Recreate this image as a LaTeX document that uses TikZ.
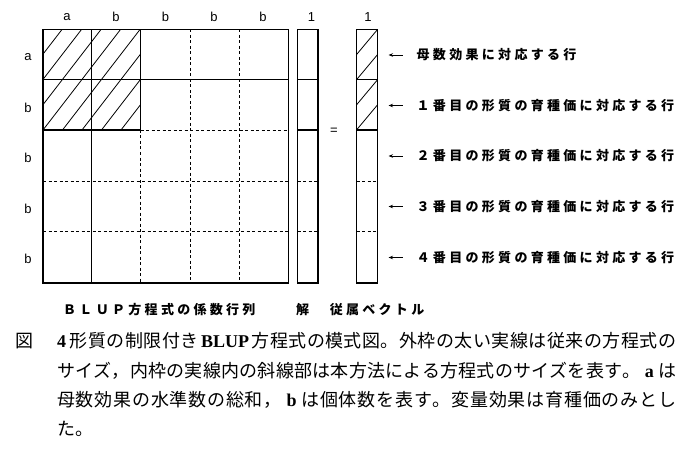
\documentclass[tikz,border=0pt]{standalone}
\usepackage{fontspec}
\setmainfont{Liberation Sans}
\newfontfamily\jpfont{Noto Sans CJK JP}
\newfontfamily\serifL{Liberation Serif}
\usetikzlibrary{arrows.meta}
\newcommand\spmark{SPMARK-UNIQUE-END}
\newdimen\lsdim \lsdim=3.3pt
\def\lsp#1{\ifx#1\spmark\unkern\else#1\kern\lsdim\expandafter\lsp\fi}
\def\hsp#1{\ifx#1\spmark\unskip\else#1\hfill\expandafter\hsp\fi}
\newcommand\LS[1]{\lsp#1\spmark}
\newcommand\SPREAD[2]{\hbox to #1{\hsp#2\spmark}}
\newcommand\BLUPw{{\kern2pt\serifL\bfseries BLUP\kern2pt}}
\newcommand\Lfour{{\serifL\bfseries 4\kern3pt}}
\newcommand\La{{\kern4pt\serifL\bfseries a\kern4pt}}
\newcommand\Lb{{\kern4pt\serifL\bfseries b\kern4pt}}
\tikzset{
  frame/.style={line width=1.8pt},
  thinln/.style={line width=0.8pt},
  dsh/.style={line width=0.9pt, dash pattern=on 3pt off 2.5pt},
  hatch/.style={line width=0.8pt},
  arr/.style={line width=0.8pt,-{Stealth[length=4.5pt,width=3.5pt]}},
  collbl/.style={font=\fontsize{13}{13}\selectfont, inner sep=0pt},
  jplbl/.style={font=\jpfont\bfseries\fontsize{13}{13}\selectfont, inner sep=0pt},
  captxt/.style={font=\jpfont\fontsize{18}{18}\selectfont, inner sep=0pt},
}
\begin{document}
\begin{tikzpicture}[x=1pt,y=-1pt]
\useasboundingbox (0,0) rectangle (700,449);
% hatching of the inner frame
\begin{scope}
  \clip (43,29.5) rectangle (140.5,130);
  \foreach \k in {-4,...,5}
    \draw[hatch] ({43+19.5*\k},130) -- ({43+19.5*\k+77.5},29.5);
\end{scope}
% big matrix inner lines
\draw[thinln] (91.5,29.5) -- (91.5,283);
\draw[thinln] (43,79) -- (288.5,79);
\draw[dsh] (140.5,130) -- (140.5,283);
\draw[dsh] (190,29.5) -- (190,283);
\draw[dsh] (239,29.5) -- (239,283);
\draw[dsh] (140.5,130) -- (288.5,130);
\draw[dsh] (43,181) -- (288.5,181);
\draw[dsh] (43,231.5) -- (288.5,231.5);
\draw[frame] (43,29.5) rectangle (140.5,130);
\draw[frame] (43,29.5) rectangle (288.5,283);
% solution vector
\draw[thinln] (297.5,79) -- (318,79);
\draw[frame] (297.5,130) -- (318,130);
\draw[dsh] (297.5,181) -- (318,181);
\draw[dsh] (297.5,231.5) -- (318,231.5);
\draw[frame] (297.5,29.5) rectangle (318,283);
% right-hand-side vector
\foreach \k in {0,...,3}
  \draw[hatch] (356.5,{29.5+25.125*(\k+1)}) -- (377.5,{29.5+25.125*\k});
\draw[thinln] (356.5,79) -- (377.5,79);
\draw[frame] (356.5,130) -- (377.5,130);
\draw[dsh] (356.5,181) -- (377.5,181);
\draw[dsh] (356.5,231.5) -- (377.5,231.5);
\draw[frame] (356.5,29.5) rectangle (377.5,283);
% equals sign
\node[collbl] (eq) at (334,131.5) {=};
% column labels
\node[collbl] (c1) at (67,17) {a};
\node[collbl] (c2) at (116,17) {b};
\node[collbl] (c3) at (165.5,17) {b};
\node[collbl] (c4) at (214,17) {b};
\node[collbl] (c5) at (263,17) {b};
\node[collbl] (c6) at (311.5,17) {1};
\node[collbl] (c7) at (368,17) {1};
% row labels
\node[collbl] (r1) at (28,57) {a};
\node[collbl] (r2) at (28,108) {b};
\node[collbl] (r3) at (28,158) {b};
\node[collbl] (r4) at (28,209) {b};
\node[collbl] (r5) at (28,259) {b};
% right labels with arrows
\foreach \i/\y/\t in {1/55/母数効果に対応する行,
                      2/105.5/１番目の形質の育種価に対応する行,
                      3/156/２番目の形質の育種価に対応する行,
                      4/206.5/３番目の形質の育種価に対応する行,
                      5/257.5/４番目の形質の育種価に対応する行}{
  \node[jplbl, anchor=west] (lbl\i) at (416.5,\y) {\expandafter\LS\expandafter{\t}};
  \coordinate (tail\i) at (402.5,\y);
  \coordinate (tip\i) at (388.5,\y);
  \draw[arr] (tail\i) -- (tip\i);
}
% bottom labels
\node[jplbl, anchor=west] (bmat) at (63,310) {\LS{ＢＬＵＰ方程式の係数行列}};
\node[jplbl] (bsol) at (302.5,310) {解};
\node[jplbl] (brhs) at (377,310) {\LS{従属ベクトル}};
% caption
\node[captxt] (zu) at (25,341) {図};
\node[captxt, anchor=west] (cap1) at (57,341) {\SPREAD{619pt}{\Lfour 形質の制限付き\BLUPw 方程式の模式図。外枠の太い実線は従来の方程式の}};
\node[captxt, anchor=west] (cap2) at (57,370.5) {\SPREAD{619pt}{サイズ，内枠の実線内の斜線部は本方法による方程式のサイズを表す。\La は}};
\node[captxt, anchor=west] (cap3) at (57,399.5) {\SPREAD{619pt}{母数効果の水準数の総和，\Lb は個体数を表す。変量効果は育種価のみとし}};
\node[captxt, anchor=west] (cap4) at (57,429) {た。};
\end{tikzpicture}
\end{document}
